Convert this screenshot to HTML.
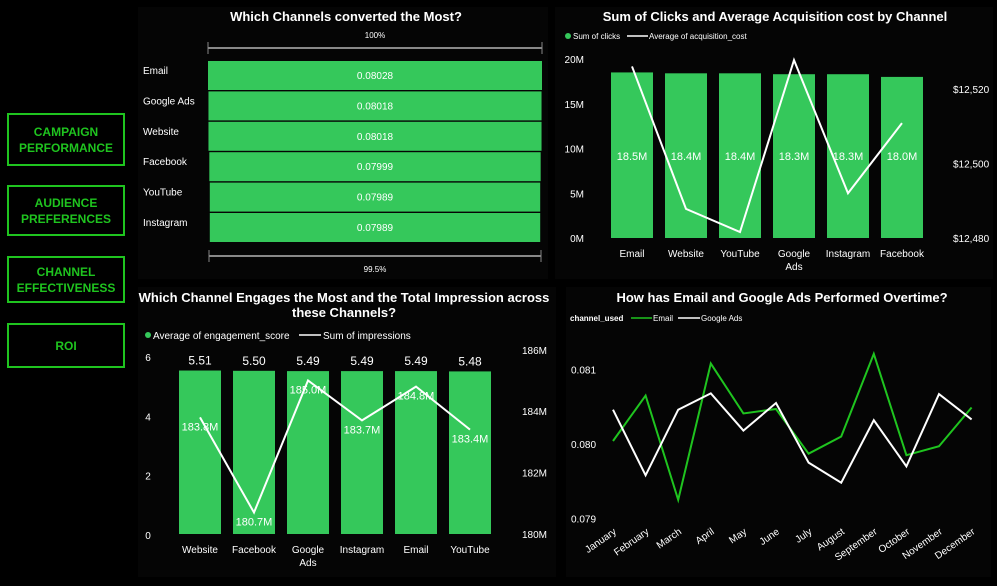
<!DOCTYPE html>
<html><head><meta charset="utf-8">
<style>
body{margin:0;width:997px;height:586px;background:#000;overflow:hidden;font-family:"Liberation Sans",sans-serif;position:relative}
.btn{position:absolute;left:7px;width:118px;border:2px solid #1fc41f;color:#1fc41f;font-weight:bold;font-size:12px;text-align:center;display:flex;align-items:center;justify-content:center;line-height:16px;box-sizing:border-box}
.panel{position:absolute;background:#050505}
svg text{font-family:"Liberation Sans",sans-serif}
</style></head><body>
<div class="btn" style="top:113px;height:53px">CAMPAIGN<br>PERFORMANCE</div>
<div class="btn" style="top:185px;height:51px">AUDIENCE<br>PREFERENCES</div>
<div class="btn" style="top:256px;height:47px">CHANNEL<br>EFFECTIVENESS</div>
<div class="btn" style="top:323px;height:45px">ROI</div>
<div class="panel" style="left:138px;top:7px;width:410px;height:272px"></div>
<div class="panel" style="left:555px;top:7px;width:438px;height:272px"></div>
<div class="panel" style="left:138px;top:287px;width:418px;height:290px"></div>
<div class="panel" style="left:566px;top:287px;width:425px;height:290px"></div>
<svg id="s" width="997" height="586" style="position:absolute;left:0;top:0"></svg>
<script>
// Funnel
const funnelCats=["Email","Google Ads","Website","Facebook","YouTube","Instagram"];
const funnelVals=[0.08028,0.08018,0.08018,0.07999,0.07989,0.07989];
// Clicks chart
const clickCats=["Email","Website","YouTube","Google Ads","Instagram","Facebook"];
const clickVals=[18.5,18.4,18.4,18.3,18.3,18.0];
const acqVals=[12526,12487.8,12481.6,12527.7,12492,12510.8];
const clickTicks=[0,5,10,15,20];
const acqTicks=[12480,12500,12520];
// Engagement chart
const engCats=["Website","Facebook","Google Ads","Instagram","Email","YouTube"];
const engVals=[5.51,5.50,5.49,5.49,5.49,5.48];
const impVals=[183.8,180.7,185.0,183.7,184.8,183.4];
const engTicks=[0,2,4,6];
const impTicks=[180,182,184,186];
// Trend chart
const months=["January","February","March","April","May","June","July","August","September","October","November","December"];
const emailVals=[0.08004,0.08065,0.07925,0.08108,0.08041,0.08047,0.07987,0.0801,0.08121,0.07985,0.07997,0.08049];
const gadsVals=[0.08046,0.07958,0.08046,0.08068,0.08018,0.08055,0.07975,0.07948,0.08032,0.0797,0.08067,0.08033];
const trendTicks=[0.079,0.080,0.081];

const S=document.getElementById('s');const NS="http://www.w3.org/2000/svg";
function el(t,a,txt){const e=document.createElementNS(NS,t);for(const k in a)e.setAttribute(k,a[k]);if(txt!==undefined)e.textContent=txt;S.appendChild(e);return e;}
const G="#35c85b";
function title(x,y,t,n){const e=el('text',{x:x,y:y,fill:'#fff','font-size':13,'font-weight':'bold','text-anchor':'middle'},t);

}

// ---- Funnel ----
title(346,21,"Which Channels converted the Most?","funnel-title");
el('text',{x:375,y:38,fill:'#fff','font-size':8,'text-anchor':'middle'},"100%");
el('line',{x1:208,y1:48,x2:542,y2:48,stroke:'#888','stroke-width':2});
el('line',{x1:208,y1:42,x2:208,y2:54,stroke:'#888'});el('line',{x1:542,y1:42,x2:542,y2:54,stroke:'#888'});
el('line',{x1:209,y1:256,x2:541,y2:256,stroke:'#888','stroke-width':2});
el('line',{x1:209,y1:250,x2:209,y2:262,stroke:'#888'});el('line',{x1:541,y1:250,x2:541,y2:262,stroke:'#888'});
el('text',{x:375,y:272,fill:'#fff','font-size':8,'text-anchor':'middle'},"99.5%");
const fMax=Math.max(...funnelVals);
funnelCats.forEach((c,i)=>{
  const w=334*(1-(fMax-funnelVals[i])/fMax*2.2);const y=61+i*30.4;
  const r=el('rect',{x:375-w/2,y:y,width:w,height:29,fill:G});
  
  
  el('text',{x:143,y:y+13,fill:'#fff','font-size':10},c);
  el('text',{x:375,y:y+18,fill:'#fff','font-size':10,'text-anchor':'middle'},funnelVals[i].toFixed(5));
});

// ---- Clicks ----
title(775,21,"Sum of Clicks and Average Acquisition cost by Channel","clicks-title");
el('circle',{cx:568,cy:36,r:3,fill:G});
el('text',{x:573,y:39,fill:'#fff','font-size':8},"Sum of clicks");
el('line',{x1:627,y1:36,x2:648,y2:36,stroke:'#fff','stroke-width':1.5});
el('text',{x:649,y:39,fill:'#fff','font-size':8},"Average of acquisition_cost");
const cy=v=>238-v*8.95, ay=v=>238-(v-12480)*3.73, cx=i=>632+i*54;
clickTicks.forEach(t=>el('text',{x:584,y:cy(t)+4,fill:'#fff','font-size':10,'text-anchor':'end'},t+"M"));
acqTicks.forEach(t=>el('text',{x:953,y:ay(t)+4,fill:'#fff','font-size':10},"$"+t.toLocaleString('en-US')));
clickCats.forEach((c,i)=>{
  const r=el('rect',{x:cx(i)-21,y:cy(clickVals[i]),width:42,height:238-cy(clickVals[i]),fill:G});
  
  
  el('text',{x:cx(i),y:160,fill:'#fff','font-size':11,'text-anchor':'middle'},clickVals[i].toFixed(1)+"M");
  const p=c.split(' ');p.forEach((w,j)=>el('text',{x:cx(i),y:257+j*13,fill:'#fff','font-size':10,'text-anchor':'middle'},w));
});
el('polyline',{points:acqVals.map((v,i)=>cx(i)+","+ay(v)).join(' '),fill:'none',stroke:'#fff','stroke-width':2});

// ---- Engagement ----
title(344,302,"Which Channel Engages the Most and the Total Impression across","engagement-title");
el('text',{x:344,y:317,fill:'#fff','font-size':13,'font-weight':'bold','text-anchor':'middle'},"these Channels?");
el('circle',{cx:148,cy:335,r:3,fill:G});
el('text',{x:153,y:339,fill:'#fff','font-size':10},"Average of engagement_score");
el('line',{x1:299,y1:335,x2:321,y2:335,stroke:'#fff','stroke-width':1.5});
el('text',{x:323,y:339,fill:'#fff','font-size':10},"Sum of impressions");
const ey=v=>534-v*29.67, iy=v=>534-(v-180)*30.7, ex=i=>200+i*54;
engTicks.forEach(t=>el('text',{x:148,y:ey(t)+5,fill:'#fff','font-size':10,'text-anchor':'middle'},t));
impTicks.forEach(t=>el('text',{x:522,y:iy(t)+4,fill:'#fff','font-size':10},t+"M"));
engCats.forEach((c,i)=>{
  const r=el('rect',{x:ex(i)-21,y:ey(engVals[i]),width:42,height:534-ey(engVals[i]),fill:G});
  
  
  el('text',{x:ex(i),y:ey(engVals[i])-6,fill:'#fff','font-size':12,'text-anchor':'middle'},engVals[i].toFixed(2));
  const p=c.split(' ');p.forEach((w,j)=>el('text',{x:ex(i),y:553+j*13,fill:'#fff','font-size':10,'text-anchor':'middle'},w));
});
el('polyline',{points:impVals.map((v,i)=>ex(i)+","+iy(v)).join(' '),fill:'none',stroke:'#fff','stroke-width':2});
impVals.forEach((v,i)=>el('text',{x:ex(i),y:Math.min(iy(v)+13,530),fill:'#fff','font-size':11,'text-anchor':'middle'},v.toFixed(1)+"M"));

// ---- Trend ----
title(782,302,"How has Email and Google Ads Performed Overtime?","trend-title");
el('text',{x:570,y:321,fill:'#fff','font-size':8,'font-weight':'bold'},"channel_used");
el('line',{x1:631,y1:318,x2:652,y2:318,stroke:'#1fc41f','stroke-width':1.5});
el('text',{x:653,y:321,fill:'#fff','font-size':8},"Email");
el('line',{x1:678,y1:318,x2:700,y2:318,stroke:'#fff','stroke-width':1.5});
el('text',{x:701,y:321,fill:'#fff','font-size':8},"Google Ads");
const ty=v=>444-(v-0.080)*74500, tx=i=>613+i*32.6;
trendTicks.forEach(t=>el('text',{x:571,y:ty(t)+4,fill:'#fff','font-size':10},t.toFixed(3)));
months.forEach((m,i)=>el('text',{x:tx(i)+4,y:533,fill:'#fff','font-size':10,'text-anchor':'end',transform:`rotate(-35 ${tx(i)+4} 533)`},m));
const eL=el('polyline',{points:emailVals.map((v,i)=>tx(i)+","+ty(v)).join(' '),fill:'none',stroke:'#1fc41f','stroke-width':2});


const gL=el('polyline',{points:gadsVals.map((v,i)=>tx(i)+","+ty(v)).join(' '),fill:'none',stroke:'#fff','stroke-width':2});


</script>
</body></html>
